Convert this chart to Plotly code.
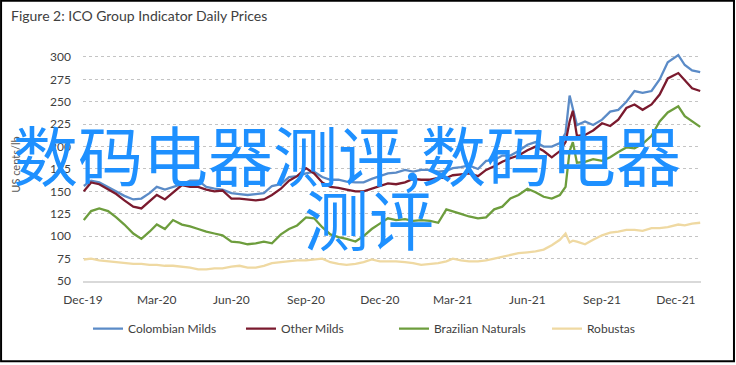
import plotly.graph_objects as go

dates = [
    "2019-12-02", "2019-12-11", "2019-12-21",
    "2020-01-01", "2020-01-11", "2020-01-21",
    "2020-02-01", "2020-02-11", "2020-02-21",
    "2020-03-01", "2020-03-11", "2020-03-21",
    "2020-04-01", "2020-04-11", "2020-04-21",
    "2020-05-01", "2020-05-11", "2020-05-21",
    "2020-06-01", "2020-06-11", "2020-06-21",
    "2020-07-01", "2020-07-11", "2020-07-21",
    "2020-08-01", "2020-08-11", "2020-08-21",
    "2020-09-01", "2020-09-11", "2020-09-21",
    "2020-10-01", "2020-10-11", "2020-10-21",
    "2020-11-01", "2020-11-11", "2020-11-21",
    "2020-12-01", "2020-12-11", "2020-12-21",
    "2021-01-01", "2021-01-11", "2021-01-21",
    "2021-02-01", "2021-02-11", "2021-02-21",
    "2021-03-01", "2021-03-11", "2021-03-21",
    "2021-04-01", "2021-04-11", "2021-04-21",
    "2021-05-01", "2021-05-11", "2021-05-21",
    "2021-06-01", "2021-06-11", "2021-06-21",
    "2021-07-01", "2021-07-11", "2021-07-18",
    "2021-07-23", "2021-07-27", "2021-08-01",
    "2021-08-11", "2021-08-21",
    "2021-09-01", "2021-09-11", "2021-09-21",
    "2021-10-01", "2021-10-11", "2021-10-21",
    "2021-11-01", "2021-11-11", "2021-11-21",
    "2021-12-04", "2021-12-12", "2021-12-21", "2021-12-31",
]

colombian_milds = [
    156, 162, 160, 155, 150, 145, 141, 142, 148, 155, 152, 155,
    158, 162, 162, 155, 153, 152, 148, 147, 146, 147, 148, 156,
    158, 166, 167, 170, 172, 166, 163, 163, 161, 160, 160, 164,
    167, 170, 171, 174, 172, 174, 174, 172, 173, 176, 177, 179,
    175, 184, 185, 190, 190, 195, 202, 205, 200, 200, 204, 215,
    257, 242, 224, 228, 224, 230, 239, 241, 250, 262, 260, 262,
    275, 294, 302, 291, 285, 283,
]

other_milds = [
    150, 160, 158, 152, 147, 140, 133, 131, 139, 146, 141, 149,
    157, 155, 155, 152, 150, 151, 142, 142, 141, 140, 141, 146,
    153, 162, 167, 176, 170, 160, 155, 154, 152, 150, 150, 153,
    156, 159, 158, 160, 164, 163, 163, 165, 165, 168, 169, 170,
    167, 174, 178, 183, 187, 190, 196, 200, 195, 188, 195, 205,
    228, 240, 212, 213, 218, 226, 223, 230, 243, 247, 241, 247,
    258, 276, 282, 274, 265, 262,
]

brazilian_naturals = [
    118, 128, 131, 128, 121, 113, 103, 97, 105, 113, 108, 118,
    113, 111, 108, 105, 103, 101, 94, 93, 91, 92, 94, 92,
    102, 108, 112, 121, 120, 110, 102, 99, 97, 94, 100, 108,
    114, 120, 118, 119, 117, 118, 117, 115, 130, 128, 125, 122,
    120, 121, 130, 133, 142, 146, 153, 149, 144, 142, 146, 155,
    195, 205, 182, 183, 186, 184, 188, 194, 199, 198, 203, 212,
    228, 238, 245, 234, 228, 222,
]

robustas = [
    74, 75, 73, 72, 71, 70, 69, 69, 68, 68, 67, 67,
    66, 65, 63, 63, 64, 64, 66, 67, 65, 65, 67, 70,
    71, 72, 73, 73, 74, 75, 71, 69, 68, 69, 71, 74,
    72, 72, 72, 71, 70, 68, 69, 70, 72, 75, 73, 72,
    72, 73, 75, 77, 79, 81, 82, 83, 85, 90, 96, 103,
    93, 95, 94, 91, 96, 101, 104, 105, 107, 107, 106, 109,
    109, 110, 113, 112, 114, 115,
]

series_names = ["Colombian Milds", "Other Milds", "Brazilian Naturals", "Robustas"]
series_colors = ["#5b8bc7", "#7a1a2e", "#6d9d3d", "#efd9a2"]

tick_dates = ["2019-12-01", "2020-03-01", "2020-06-01", "2020-09-01", "2020-12-01",
              "2021-03-01", "2021-06-01", "2021-09-01", "2021-12-01"]
tick_labels = ["Dec-19", "Mar-20", "Jun-20", "Sep-20", "Dec-20",
               "Mar-21", "Jun-21", "Sep-21", "Dec-21"]
y_ticks = [50, 75, 100, 125, 150, 175, 200, 225, 250, 275, 300]

title_text = "Figure 2: ICO Group Indicator Daily Prices"
y_title = "US cents/lb"
watermark_line1 = "数码电器测评,数码电器"
watermark_line2 = "测评"

fig = go.Figure()
for name, vals, col in zip(series_names,
                           [colombian_milds, other_milds, brazilian_naturals, robustas],
                           series_colors):
    fig.add_trace(go.Scatter(x=dates, y=vals, mode="lines", name=name,
                             line=dict(color=col, width=2.3)))

W, H = 736, 365
ml, mr, mt, mb = 83, 34.5, 48.3, 83.7
pw, ph = W - ml - mr, H - mt - mb

def px(x):
    return (x - ml) / pw

def py(y):
    return (H - mb - y) / ph

fig.update_layout(
    width=W, height=H,
    margin=dict(l=ml, r=mr, t=mt, b=mb, pad=0),
    paper_bgcolor="white", plot_bgcolor="white",
    font=dict(family="Lato", size=12, color="#404040"),
    showlegend=True,
    legend=dict(orientation="h", x=px(88), xanchor="left", y=py(329), yanchor="middle",
                font=dict(size=12, color="#404040"), entrywidth=108,
                entrywidthmode="pixels", itemwidth=30, tracegroupgap=0),
    xaxis=dict(type="date", range=["2019-12-01", "2022-01-01"],
               tickvals=tick_dates, ticktext=tick_labels, showgrid=False,
               showline=True, linecolor="#d9d9d9", linewidth=1.5,
               ticks="", tickfont=dict(size=12, color="#404040"),
               ticklabelstandoff=7, zeroline=False),
    yaxis=dict(range=[50, 310], tickvals=y_ticks, showgrid=True,
               gridcolor="#c4c4c4", griddash="dot", gridwidth=1,
               zeroline=False, showline=False, ticks="",
               ticklabelstandoff=11, tickfont=dict(size=12, color="#404040"),
               title=dict(text=y_title, font=dict(size=11, color="#595959"), standoff=27)),
)

fig.add_annotation(text=title_text, xref="paper", yref="paper",
                   x=px(9), y=py(16), xanchor="left", yanchor="middle",
                   showarrow=False, font=dict(family="Lato", size=14, color="#404040"))

fig.add_annotation(text=watermark_line1, xref="paper", yref="paper",
                   x=px(347), y=py(153), xanchor="center", yanchor="middle",
                   showarrow=False,
                   font=dict(family="Noto Sans CJK SC", size=65, color="#1e90ff"))
fig.add_annotation(text=watermark_line2, xref="paper", yref="paper",
                   x=px(369), y=py(217), xanchor="center", yanchor="middle",
                   showarrow=False,
                   font=dict(family="Noto Sans CJK SC", size=65, color="#1e90ff"))

fig.add_shape(type="rect", xref="paper", yref="paper",
              x0=px(1), x1=px(734.5), y0=py(361.5), y1=py(1),
              line=dict(color="black", width=2), layer="above")

fig.write_html("out.html", config={"displayModeBar": False},
               post_script="document.body.style.margin='0px';document.body.style.padding='0px';")
